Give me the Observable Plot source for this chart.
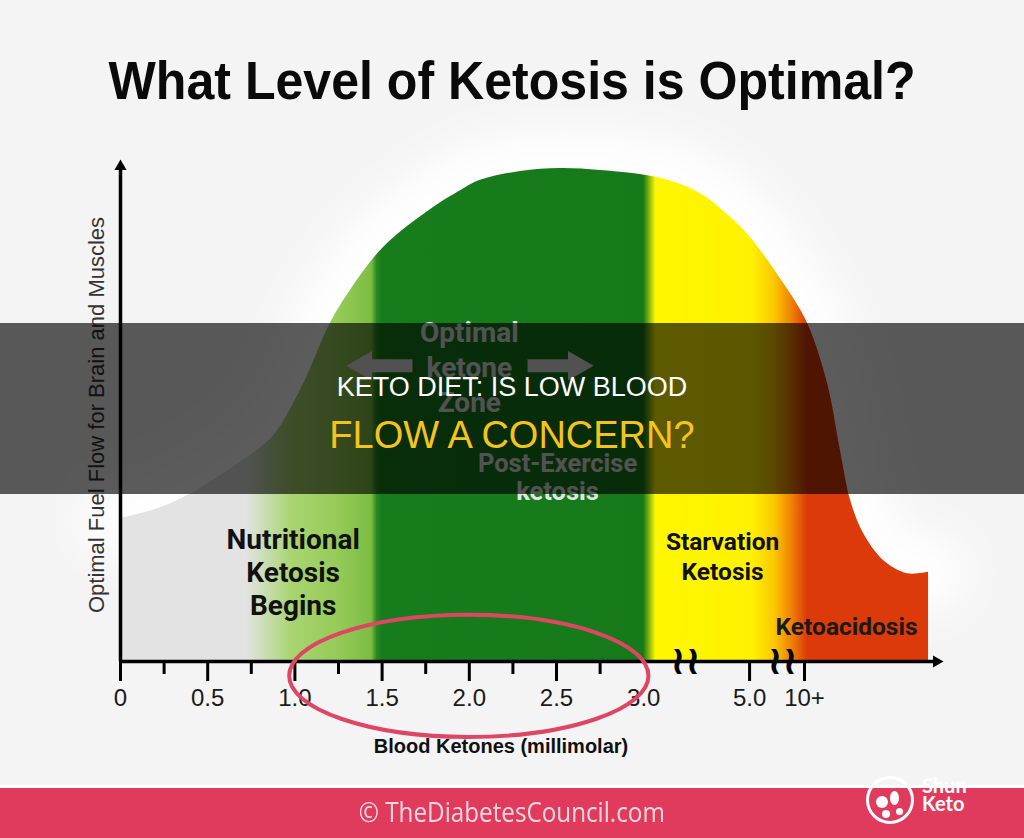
<!DOCTYPE html>
<html>
<head>
<meta charset="utf-8">
<script src="https://cdn.jsdelivr.net/npm/d3@7"></script>
<script src="https://cdn.jsdelivr.net/npm/@observablehq/plot@0.6"></script>
<style>
html,body{margin:0;padding:0;background:#f4f4f4;}
#page{position:relative;width:1024px;height:838px;overflow:hidden;background:#f4f4f4;font-family:'Liberation Sans',Arial,sans-serif;}
#chart{position:absolute;left:0;top:0;}
.abs{position:absolute;left:0;width:1024px;text-align:center;white-space:nowrap;}
.fit{display:inline-block;transform-origin:50% 50%;}
#title{top:53px;font-weight:bold;font-size:54px;line-height:54px;color:#0a0a0a;}
#band{position:absolute;left:0;top:323px;width:1024px;height:171px;background:rgba(0,0,0,0.64);}
#line1{top:374px;font-size:27px;line-height:27px;color:#ffffff;}
#line2{top:416px;font-size:38px;line-height:38px;color:#f6c31c;}
#stripe{position:absolute;left:0;top:785px;width:1024px;height:3px;background:#ffffff;}
#footer{position:absolute;left:0;top:788px;width:1024px;height:50px;background:#e03b5d;}
#credit{top:797px;font-family:'Open Sans',sans-serif;font-size:28px;line-height:28px;color:rgba(255,255,255,0.8);}
#ring{position:absolute;left:866px;top:776px;width:42px;height:42px;border:3px solid #fff;border-radius:50%;box-sizing:content-box;}
.blob{position:absolute;background:#fff;border-radius:50%;}
.logo-t{position:absolute;left:922px;font-family:Lato,sans-serif;font-weight:bold;font-size:20px;line-height:20px;color:#fff;}
</style>
</head>
<body>
<div id="page">
  <div id="chart"></div>
  <div class="abs" id="title"><span class="fit" id="titleText">What Level of Ketosis is Optimal?</span></div>
  <div id="band"></div>
  <div class="abs" id="line1">KETO DIET: IS LOW BLOOD</div>
  <div class="abs" id="line2">FLOW A CONCERN?</div>
  <div id="stripe"></div>
  <div id="footer"></div>
  <div class="abs" id="credit"><span class="fit" id="creditText">© TheDiabetesCouncil.com</span></div>
  <div id="ring"></div>
  <div class="blob" style="left:876px;top:796px;width:12px;height:12px;"></div>
  <div class="blob" style="left:890px;top:791px;width:9px;height:14px;"></div>
  <div class="blob" style="left:882px;top:810px;width:8px;height:8px;"></div>
  <div class="blob" style="left:896px;top:808px;width:7px;height:7px;"></div>
  <div class="logo-t" style="top:775px;">Shun</div>
  <div class="logo-t" style="top:793px;">Keto</div>
</div>
<script>
// ---- data ----
const curveX = [0, 0.229, 0.459, 0.688, 0.877, 1.032, 1.204, 1.319, 1.508, 1.795, 1.95, 2.064, 2.294, 2.523, 2.752, 3.096, 3.326, 3.498, 3.612, 3.802, 3.939, 4.054, 4.128, 4.186, 4.26, 4.375, 4.513, 4.633];
const curveY = [29.0, 31.2, 35.1, 40.4, 45.8, 55.0, 68.6, 75.3, 84.0, 92.1, 95.5, 97.6, 99.4, 100, 99.6, 98.0, 94.9, 90.1, 86.0, 76.7, 68.6, 56.4, 42.8, 32.7, 26.0, 20.5, 17.8, 18.1];
const xMax = 4.673;

const stopPos   = [0, 0.72, 0.98, 1.25, 1.44, 1.47, 1.5, 3.0, 3.07, 3.62, 3.75, 3.86, 3.94, 4.673];
const stopColor = ["#e3e3e3", "#e3e3e3", "#a9d571", "#95ca58", "#7dbd42", "#2a8a22", "#177c1b", "#167a1a", "#fff700", "#fff200", "#fbc800", "#ef7a05", "#dc3a0b", "#dc3a0b"];

const majorTickPos = [0, 0.5, 1, 1.5, 2, 2.5, 3.607, 3.922];
const minorTickPos = [0.25, 0.75, 1.25, 1.75, 2.25, 2.75];
const tickLabelPos = [0, 0.5, 1, 1.5, 2, 2.5, 3, 3.607, 3.922];
const tickLabels   = ["0", "0.5", "1.0", "1.5", "2.0", "2.5", "3.0", "5.0", "10+"];
const breakPos = [3.24, 3.796];

const darkLabelText = ["Nutritional\nKetosis\nBegins", "Starvation\nKetosis", "Ketoacidosis"];
const darkLabelX = [0.99, 3.452, 4.163];
const darkLabelY = [18.3, 21.5, 6.9];

const lightLabelText = ["Optimal\nketone\nZone", "Post-Exercise\nketosis"];
const lightLabelX = [2.0, 2.506];
const lightLabelY = [60, 37.4];

const arrowTail = [1.674, 2.334];
const arrowHead = [1.393, 2.615];
const arrowY = 60;

const ringX = 2.0, ringY = -3.0, ringRX = 1.03, ringRY = 12.4;

const yLabel = "Optimal Fuel Flow for Brain and Muscles";
const xLabel = "Blood Ketones (millimolar)";

// ---- build ----
const curve = curveX.map((x, i) => ({x, y: curveY[i]}));
const labelMap = new Map(tickLabelPos.map((p, i) => [p, tickLabels[i]]));
const dark = darkLabelText.map((t, i) => ({t, x: darkLabelX[i], y: darkLabelY[i]}));
const light = lightLabelText.map((t, i) => ({t, x: lightLabelX[i], y: lightLabelY[i]}));
const arrows = arrowTail.map((t, i) => ({tail: t, head: arrowHead[i], dir: arrowHead[i] < t ? -1 : 1}));

const defsMark = (index, scales) => {
  const x0 = scales.x(0), x1 = scales.x(xMax);
  const g = d3.create("svg:g");
  const defs = g.append("defs");
  const lg = defs.append("linearGradient").attr("id", "ketoGrad")
    .attr("gradientUnits", "userSpaceOnUse")
    .attr("x1", x0).attr("x2", x1).attr("y1", 0).attr("y2", 0);
  stopPos.forEach((p, i) => lg.append("stop")
    .attr("offset", (scales.x(p) - x0) / (x1 - x0))
    .attr("stop-color", stopColor[i]));
  defs.append("filter").attr("id", "glowBlur")
    .attr("filterUnits", "userSpaceOnUse")
    .attr("x", 0).attr("y", 0).attr("width", 1024).attr("height", 838)
    .append("feGaussianBlur").attr("stdDeviation", 20);
  return g.node();
};

const ringMark = (index, scales) => {
  const cx = scales.x(ringX), cy = scales.y(ringY);
  const rx = scales.x(ringX + ringRX) - cx;
  const ry = cy - scales.y(ringY + ringRY);
  return d3.create("svg:ellipse")
    .attr("cx", cx).attr("cy", cy).attr("rx", rx).attr("ry", ry)
    .attr("fill", "none").attr("stroke", "#dd4665").attr("stroke-width", 4)
    .node();
};

const chart = Plot.plot({
  width: 1024,
  height: 838,
  marginLeft: 120,
  marginRight: 89,
  marginTop: 168,
  marginBottom: 177,
  x: {domain: [0, xMax], axis: null},
  y: {domain: [0, 100], axis: null},
  style: {background: "transparent", fontFamily: "'Liberation Sans', Arial, sans-serif", color: "#111"},
  marks: [
    defsMark,
    Plot.line(curve, {x: "x", y: "y", stroke: "#ffffff", strokeWidth: 80, strokeOpacity: 0.95, curve: "catmull-rom", ariaDescription: "glow"}),
    Plot.areaY(curve, {x: "x", y: "y", fill: "url(#ketoGrad)", curve: "catmull-rom"}),
    Plot.ruleX([0], {y1: 0, y2: 100, stroke: "#000", strokeWidth: 3.5}),
    Plot.ruleY([0], {x1: 0, x2: xMax, stroke: "#000", strokeWidth: 3.5}),
    Plot.dot([{x: 0, y: 100}], {x: "x", y: "y", symbol: "triangle", r: 4.5, fill: "#000", stroke: null, dy: -2}),
    Plot.dot([{x: xMax, y: 0}], {x: "x", y: "y", symbol: "triangle", r: 4.5, fill: "#000", stroke: null, rotate: 90, dx: 1}),
    Plot.axisX(majorTickPos, {tickSize: 20, strokeWidth: 3, stroke: "#000", tickFormat: () => ""}),
    Plot.axisX(minorTickPos, {tickSize: 13, strokeWidth: 3, stroke: "#000", tickFormat: () => ""}),
    Plot.axisX(tickLabelPos, {tickSize: 0, tickPadding: 27, fontSize: 24, fill: "#1a1a1a", tickFormat: d => labelMap.get(d)}),
    Plot.text(breakPos, {x: d => d, y: () => 0, text: () => "≀≀", fontSize: 40, fontWeight: "bold", fontFamily: "DejaVu Sans", fill: "#000", dy: 0}),
    Plot.text(dark.slice(0, 1), {x: "x", y: "y", text: "t", fontSize: 28, lineHeight: 1.18, fontWeight: "bold", fontFamily: "Roboto", fill: "#111"}),
    Plot.text(dark.slice(1, 2), {x: "x", y: "y", text: "t", fontSize: 24.5, lineHeight: 1.2, fontWeight: "bold", fontFamily: "Roboto", fill: "#111"}),
    Plot.text(dark.slice(2, 3), {x: "x", y: "y", text: "t", fontSize: 24.5, fontWeight: "bold", fontFamily: "Roboto", fill: "#1a1a1a"}),
    Plot.text(light.slice(0, 1), {x: "x", y: "y", text: "t", fontSize: 28, lineHeight: 1.24, fontWeight: "bold", fontFamily: "Roboto", fill: "#e4e4e4"}),
    Plot.text(light.slice(1, 2), {x: "x", y: "y", text: "t", fontSize: 25.5, lineHeight: 1.08, fontWeight: "bold", fontFamily: "Roboto", fill: "#e4e4e4"}),
    Plot.link(arrows, {x1: "tail", x2: "head", y1: () => arrowY, y2: () => arrowY, stroke: "#e0e0e0", strokeWidth: 13}),
    Plot.dot(arrows, {x: "head", y: () => arrowY, symbol: "triangle", r: 11, fill: "#e0e0e0", stroke: null, rotate: d => d.dir * 90}),
    ringMark,
    Plot.text([yLabel], {frameAnchor: "left", textAnchor: "middle", rotate: -90, dx: -24, fontSize: 22, fill: "#333"}),
    Plot.text([xLabel], {frameAnchor: "bottom", dy: 91, dx: -27, fontSize: 20, fontWeight: "bold", fill: "#111"})
  ]
});
document.getElementById("chart").appendChild(chart);
d3.select(chart).selectAll('[aria-description="glow"]').attr("filter", "url(#glowBlur)");

// fit text widths of title and credit
function fit(id, target, sy) {
  const el = document.getElementById(id);
  const w = el.getBoundingClientRect().width;
  el.style.transform = `scale(${target / w}, ${sy || 1})`;
}
fit("titleText", 807, 1);
fit("creditText", 306, 1);
</script>
</body>
</html>
